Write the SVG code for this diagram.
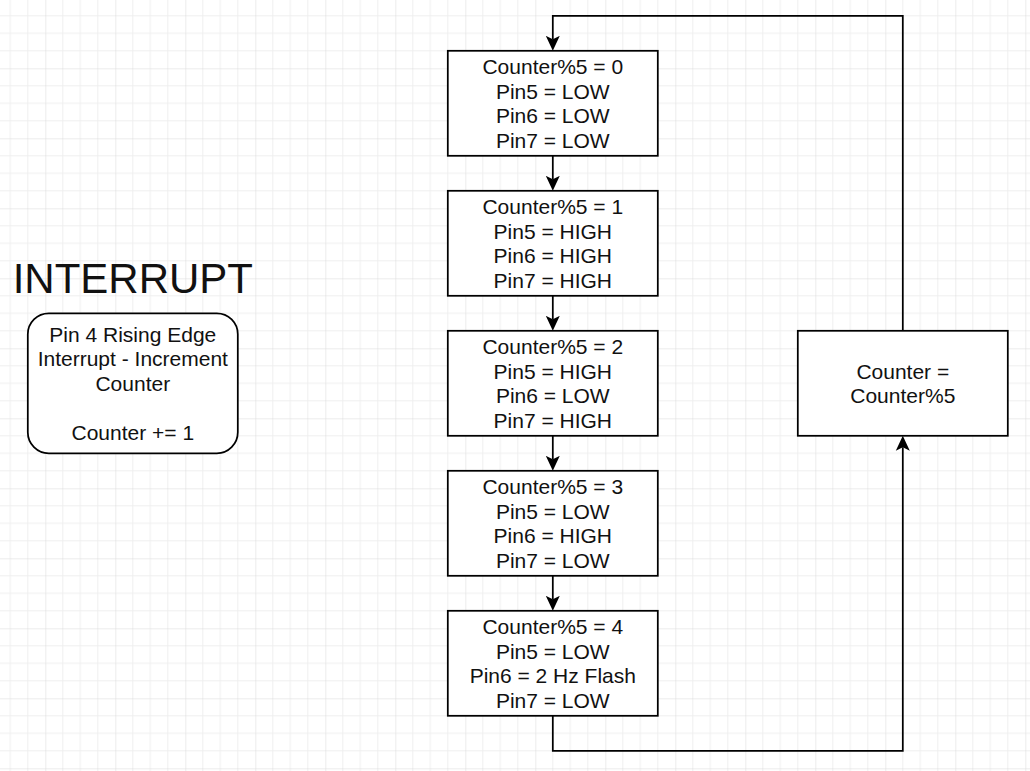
<svg xmlns="http://www.w3.org/2000/svg" width="1030" height="771" viewBox="0 0 1030 771">
<style>
.box{fill:#ffffff;stroke:#000000;stroke-width:1.75}
.t{font-family:"Liberation Sans",Arial,Helvetica,sans-serif;font-size:21px;fill:#111111;text-anchor:middle}
.title{font-family:"Liberation Sans",Arial,Helvetica,sans-serif;font-size:42px;fill:#111111;text-anchor:middle}
.edge{fill:none;stroke:#000000;stroke-width:1.75}
</style>
<defs>
<pattern id="grid" patternUnits="userSpaceOnUse" x="45.3" y="-1.7" width="70" height="70">
<path d="M17.5,0V70M35,0V70M52.5,0V70M0,17.5H70M0,35H70M0,52.5H70" stroke="#efefef" stroke-width="1" fill="none"/>
<path d="M0,0V70M0,0H70" stroke="#dadada" stroke-width="1" fill="none"/>
</pattern>
<marker id="arr" markerUnits="userSpaceOnUse" markerWidth="16" markerHeight="16" viewBox="0 -8 16 16" refX="3.5" refY="0" orient="auto">
<path d="M15,0 L0,-7 L3.5,0 L0,7 Z" fill="#000000"/>
</marker>
</defs>
<rect x="0" y="0" width="1030" height="771" fill="#ffffff"/>
<rect x="0" y="0" width="1030" height="771" fill="url(#grid)"/>

<g id="connectors">
<path class="edge" d="M552.8,155.8V179.3" marker-end="url(#arr)"/>
<path class="edge" d="M552.8,295.8V319.3" marker-end="url(#arr)"/>
<path class="edge" d="M552.8,435.8V459.3" marker-end="url(#arr)"/>
<path class="edge" d="M552.8,575.8V599.3" marker-end="url(#arr)"/>
<path class="edge" d="M552.8,715.8V750.8H902.8V447.3" marker-end="url(#arr)"/>
<path class="edge" d="M902.8,330.8V15.8H552.8V39.3" marker-end="url(#arr)"/>
</g>

<g id="title">
<text class="title" x="132.8" y="293">INTERRUPT</text>
</g>

<g id="interrupt">
<rect class="box" x="27.8" y="313.3" width="210" height="140" rx="21" ry="21"/>
<text class="t" x="132.8" y="341.8">Pin 4 Rising Edge</text>
<text class="t" x="132.8" y="366.3">Interrupt - Increment</text>
<text class="t" x="132.8" y="390.8">Counter</text>
<text class="t" x="132.8" y="439.8">Counter += 1</text>
</g>

<g id="state0">
<rect class="box" x="447.8" y="50.8" width="210" height="105"/>
<text class="t" x="552.8" y="74">Counter%5 = 0</text>
<text class="t" x="552.8" y="98.5">Pin5 = LOW</text>
<text class="t" x="552.8" y="123">Pin6 = LOW</text>
<text class="t" x="552.8" y="147.5">Pin7 = LOW</text>
</g>

<g id="state1">
<rect class="box" x="447.8" y="190.8" width="210" height="105"/>
<text class="t" x="552.8" y="214">Counter%5 = 1</text>
<text class="t" x="552.8" y="238.5">Pin5 = HIGH</text>
<text class="t" x="552.8" y="263">Pin6 = HIGH</text>
<text class="t" x="552.8" y="287.5">Pin7 = HIGH</text>
</g>

<g id="state2">
<rect class="box" x="447.8" y="330.8" width="210" height="105"/>
<text class="t" x="552.8" y="354">Counter%5 = 2</text>
<text class="t" x="552.8" y="378.5">Pin5 = HIGH</text>
<text class="t" x="552.8" y="403">Pin6 = LOW</text>
<text class="t" x="552.8" y="427.5">Pin7 = HIGH</text>
</g>

<g id="state3">
<rect class="box" x="447.8" y="470.8" width="210" height="105"/>
<text class="t" x="552.8" y="494">Counter%5 = 3</text>
<text class="t" x="552.8" y="518.5">Pin5 = LOW</text>
<text class="t" x="552.8" y="543">Pin6 = HIGH</text>
<text class="t" x="552.8" y="567.5">Pin7 = LOW</text>
</g>

<g id="state4">
<rect class="box" x="447.8" y="610.8" width="210" height="105"/>
<text class="t" x="552.8" y="634">Counter%5 = 4</text>
<text class="t" x="552.8" y="658.5">Pin5 = LOW</text>
<text class="t" x="552.8" y="683">Pin6 = 2 Hz Flash</text>
<text class="t" x="552.8" y="707.5">Pin7 = LOW</text>
</g>

<g id="modulo">
<rect class="box" x="797.8" y="330.8" width="210" height="105"/>
<text class="t" x="902.8" y="378.6">Counter =</text>
<text class="t" x="902.8" y="403.1">Counter%5</text>
</g>
</svg>
